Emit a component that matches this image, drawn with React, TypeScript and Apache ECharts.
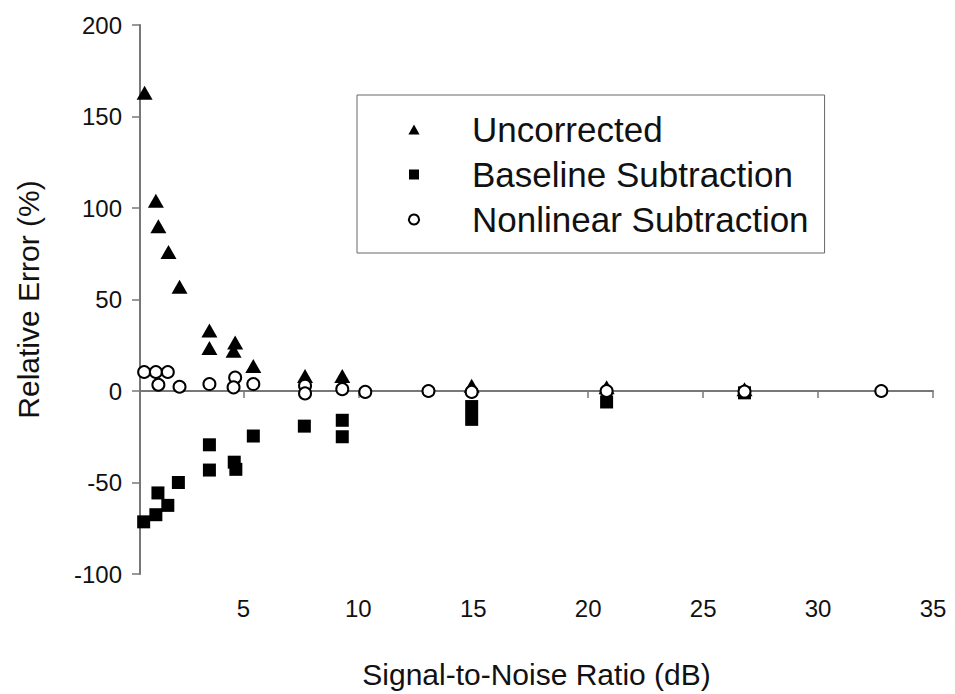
import React, { useEffect, useRef } from "react";
import * as echarts from "echarts";

const xTickValues = [5, 10, 15, 20, 25, 30, 35];

const uncorrected: [number, number][] = [
  [0.7, 163], [1.19, 104], [1.3, 90], [1.74, 76], [2.22, 57],
  [3.52, 33], [3.52, 23.5], [4.64, 26.5], [4.57, 22], [5.43, 13.6],
  [7.68, 8.2], [9.3, 8.2], [14.93, 2.9], [20.8, 2], [26.8, 1],
];

const baseline: [number, number][] = [
  [0.66, -71.5], [1.19, -67.6], [1.28, -55.7], [1.71, -62.5], [2.17, -50],
  [3.52, -29.4], [3.52, -43.2], [4.6, -38.9], [4.67, -42.8], [5.43, -24.6],
  [7.65, -19.2], [9.3, -16], [9.3, -25], [14.93, -8.5], [14.93, -15.5],
  [20.8, -6], [26.8, -1],
];

const nonlinear: [number, number][] = [
  [0.68, 10.4], [1.19, 10.4], [1.71, 10.4], [1.3, 3.4], [2.22, 2.3],
  [3.52, 3.8], [4.64, 7.4], [4.57, 2], [5.43, 3.8], [7.68, 2.9],
  [7.68, -1.3], [9.3, 1], [10.3, -0.5], [13.05, 0], [14.93, -0.5],
  [20.8, 0], [26.8, -0.3], [32.75, 0],
];

const FONT = "Liberation Sans, Arial, sans-serif";

const ICON_TRIANGLE = "path://M5,0 L10,9 L0,9 Z";
const ICON_SQUARE = "path://M0,0 L10,0 L10,10 L0,10 Z";
const ICON_CIRCLE = "path://M5,0 A5,5 0 1,1 4.99,0 Z";

export default function App() {
  const ref = useRef<HTMLDivElement>(null);
  useEffect(() => {
    document.body.style.margin = "0";
    if (!ref.current) return;
    const chart = echarts.init(ref.current, null, { renderer: "svg" });
    chart.setOption({
      animation: false,
      backgroundColor: "#fff",
      grid: { left: 140, right: 22, top: 25, bottom: 111, containLabel: false },
      legend: {
        orient: "vertical",
        left: 357,
        top: 95,
        padding: [17, 16, 16, 51],
        itemWidth: 106,
        itemHeight: 10,
        itemGap: 10,
        symbolKeepAspect: true,
        borderColor: "#666",
        borderWidth: 1,
        textStyle: { fontFamily: FONT, fontSize: 35, color: "#111", lineHeight: 35 },
        data: [
          { name: "Uncorrected", icon: ICON_TRIANGLE },
          { name: "Baseline Subtraction", icon: ICON_SQUARE },
          { name: "Nonlinear Subtraction", icon: ICON_CIRCLE },
        ],
      },
      xAxis: {
        type: "value",
        min: 0.5,
        max: 35,
        name: "Signal-to-Noise Ratio (dB)",
        nameLocation: "middle",
        nameGap: 85,
        nameTextStyle: { fontFamily: FONT, fontSize: 30, color: "#111" },
        axisLine: { show: true, lineStyle: { color: "#777", width: 2 } },
        axisTick: { show: true, length: 7, customValues: xTickValues, lineStyle: { color: "#777", width: 1.5 } },
        axisLabel: { customValues: xTickValues, margin: 22, fontFamily: FONT, fontSize: 24, color: "#111" },
        splitLine: { show: false },
      },
      yAxis: {
        type: "value",
        min: -100,
        max: 200,
        interval: 50,
        name: "Relative Error (%)",
        nameLocation: "middle",
        nameGap: 97,
        nameTextStyle: { fontFamily: FONT, fontSize: 30, color: "#111" },
        axisLine: { show: true, lineStyle: { color: "#777", width: 2 } },
        axisTick: { show: true, length: 8, lineStyle: { color: "#777", width: 1.5 } },
        axisLabel: { margin: 18, fontFamily: FONT, fontSize: 24, color: "#111" },
        splitLine: { show: false },
      },
      series: [
        {
          name: "Uncorrected",
          type: "scatter",
          symbol: "triangle",
          symbolSize: [16, 14],
          itemStyle: { color: "#000", opacity: 1 },
          data: uncorrected,
          z: 2,
        },
        {
          name: "Baseline Subtraction",
          type: "scatter",
          symbol: "rect",
          symbolSize: 13,
          itemStyle: { color: "#000", opacity: 1 },
          data: baseline,
          z: 2,
        },
        {
          name: "Nonlinear Subtraction",
          type: "scatter",
          symbol: "circle",
          symbolSize: 12,
          itemStyle: { color: "#fff", borderColor: "#000", borderWidth: 2, opacity: 1 },
          data: nonlinear,
          z: 3,
        },
      ],
    });
    return () => chart.dispose();
  }, []);
  return <div ref={ref} style={{ width: 955, height: 694 }} />;
}
